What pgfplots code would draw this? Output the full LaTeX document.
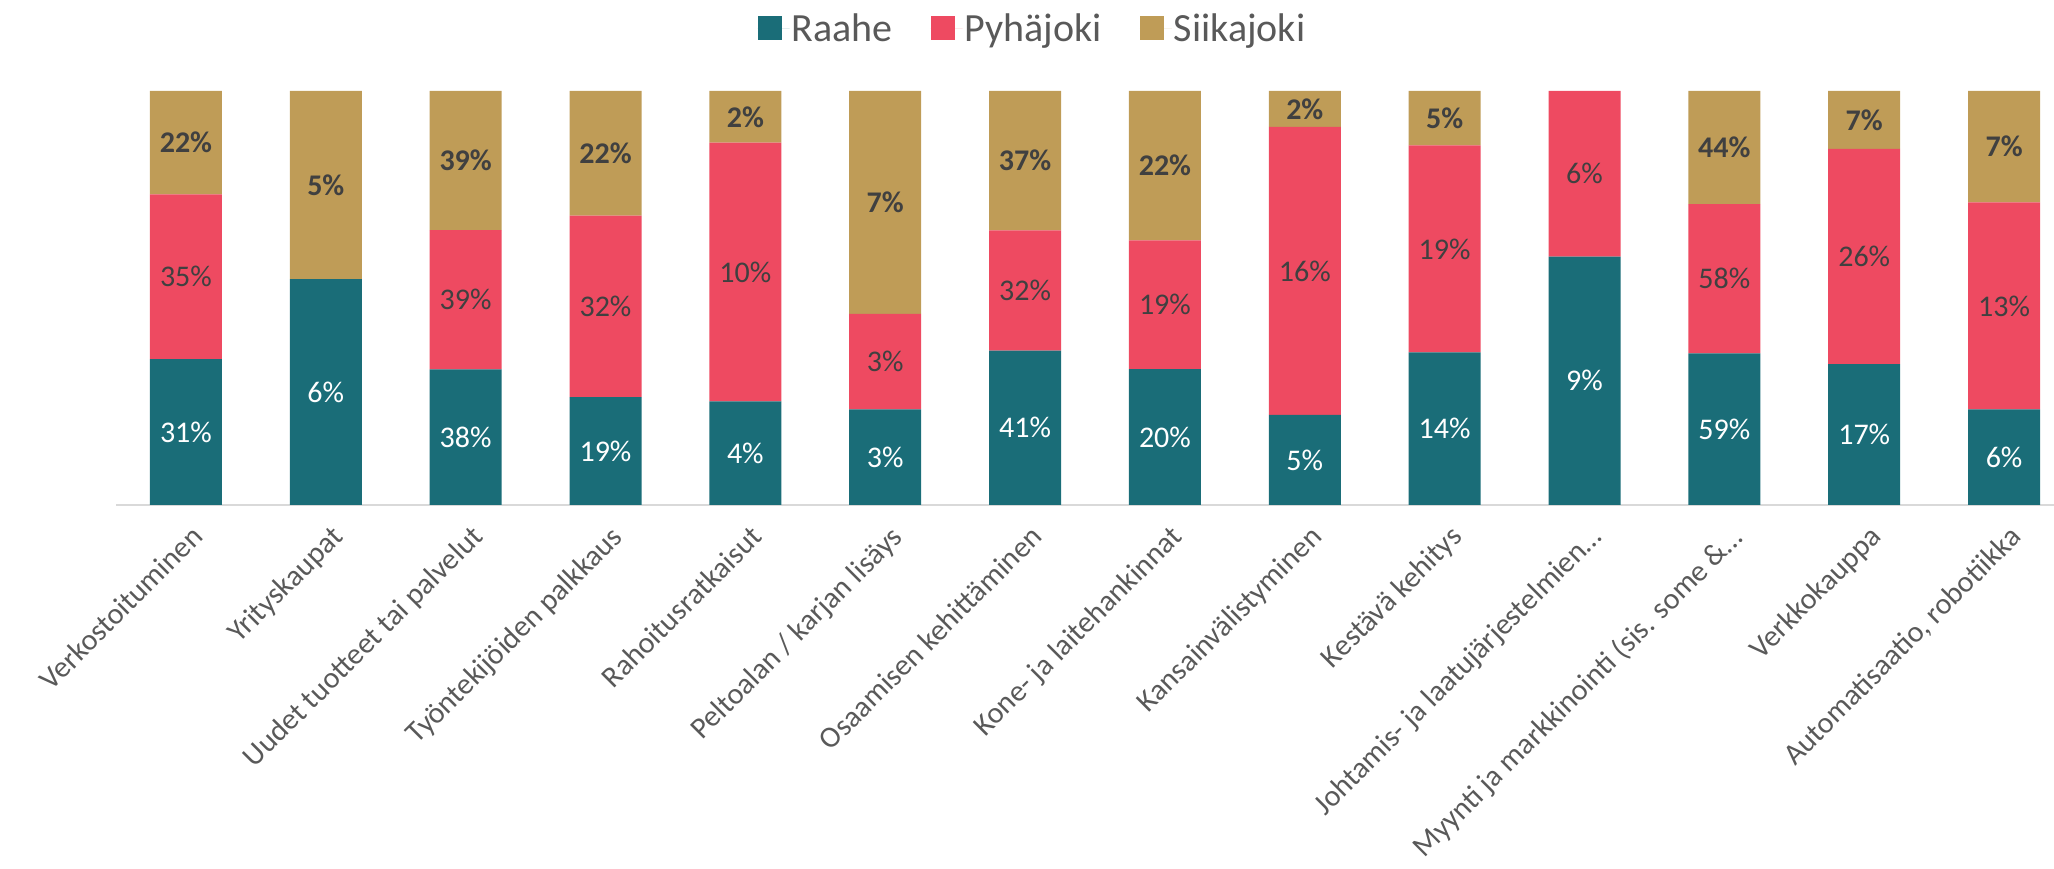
\documentclass[border=0pt]{standalone}
\usepackage{pgfplots}
\pgfplotsset{compat=1.18}
\usepackage{pgfplotstable}
\usepackage{fontspec}
\setmainfont{Carlito}
\definecolor{raahe}{HTML}{1A6D78}
\definecolor{pyha}{HTML}{EE4A61}
\definecolor{siika}{HTML}{BF9C57}
\definecolor{txtgray}{HTML}{595959}
\definecolor{lblgray}{HTML}{404040}
\definecolor{axgray}{HTML}{D9D9D9}

% shares of each bar (normalised from the label values)
\pgfplotstableread{
x raahe pyha siika
0 35.23 39.77 25.00
1 54.55 0.00 45.45
2 32.76 33.62 33.62
3 26.03 43.84 30.14
4 25.00 62.50 12.50
5 23.08 23.08 53.85
6 37.27 29.09 33.64
7 32.79 31.15 36.07
8 21.74 69.57 8.70
9 36.84 50.00 13.16
10 60.00 40.00 0.00
11 36.65 36.02 27.33
12 34.00 52.00 14.00
13 23.08 50.00 26.92
}\shares

% label positions (segment centres) and label values
\pgfplotstableread{
x y lab
0 17.61 31
1 27.27 6
2 16.38 38
3 13.01 19
4 12.50 4
5 11.54 3
6 18.64 41
7 16.39 20
8 10.87 5
9 18.42 14
10 30.00 9
11 18.32 59
12 17.00 17
13 11.54 6
}\labR
\pgfplotstableread{
x y lab
0 55.11 35
2 49.57 39
3 47.95 32
4 56.25 10
5 34.62 3
6 51.82 32
7 48.36 19
8 56.52 16
9 61.84 19
10 80.00 6
11 54.66 58
12 60.00 26
13 48.08 13
}\labP
\pgfplotstableread{
x y lab
0 87.50 22
1 77.27 5
2 83.19 39
3 84.93 22
4 93.75 2
5 73.08 7
6 83.18 37
7 81.97 22
8 95.65 2
9 93.42 5
11 86.34 44
12 93.00 7
13 86.54 7
}\labS

\pgfplotsset{myaxis/.style={
  scale only axis, width=1938bp, height=414bp,
  xmin=-0.5, xmax=13.357, ymin=0, ymax=100,
  anchor=south west, at={(116bp,364bp)},
},
lblplot/.style={draw=none, mark=none,
  point meta=explicit symbolic, nodes near coords={\pgfplotspointmeta\%}},
}
\newcommand\lblfont{\fontsize{30bp}{36bp}\selectfont}

\begin{document}
\begin{tikzpicture}
\begin{axis}[myaxis, ybar stacked, bar width=72bp,
  axis y line=none, axis x line*=bottom,
  x axis line style={axgray, line width=2bp, -},
  xtick={0,...,13}, major tick length=0pt,
  xticklabels={Verkostoituminen, Yrityskaupat, Uudet tuotteet tai palvelut, Työntekijöiden palkkaus, Rahoitusratkaisut, Peltoalan / karjan lisäys, Osaamisen kehittäminen, Kone- ja laitehankinnat, Kansainvälistyminen, Kestävä kehitys, Johtamis- ja laatujärjestelmien…, Myynti ja markkinointi (sis. some \&…, Verkkokauppa, {Automatisaatio, robotiikka}},
  xticklabel style={font=\fontsize{30bp}{36bp}\selectfont, text=txtgray, xshift=4bp, yshift=-14bp, rotate=45, anchor=north east},
  legend columns=-1,
  legend style={at={(0.4729,1.152)}, anchor=center, draw=none, fill=none,
    font=\fontsize{40bp}{48bp}\selectfont, text=txtgray,
    /tikz/every even column/.append style={column sep=36bp}},
]
\addplot[fill=raahe, draw=none, legend image code/.code={\fill[raahe] (0bp,-12bp) rectangle (24bp,12bp); \path (0bp,0bp) -- (32bp,0bp);}] table[x=x, y=raahe] {\shares};
\addlegendentry{Raahe}
\addplot[fill=pyha, draw=none, legend image code/.code={\fill[pyha] (0bp,-12bp) rectangle (24bp,12bp); \path (0bp,0bp) -- (32bp,0bp);}] table[x=x, y=pyha] {\shares};
\addlegendentry{Pyhäjoki}
\addplot[fill=siika, draw=none, legend image code/.code={\fill[siika] (0bp,-12bp) rectangle (24bp,12bp); \path (0bp,0bp) -- (32bp,0bp);}] table[x=x, y=siika] {\shares};
\addlegendentry{Siikajoki}
\end{axis}
\begin{axis}[myaxis, hide axis]
\addplot[lblplot,
  every node near coord/.append style={anchor=center, text=white, font=\lblfont}]
  table[x=x, y=y, meta=lab] {\labR};
\addplot[lblplot,
  every node near coord/.append style={anchor=center, text=lblgray, font=\lblfont}]
  table[x=x, y=y, meta=lab] {\labP};
\addplot[lblplot,
  every node near coord/.append style={anchor=center, text=lblgray, font=\bfseries\lblfont}]
  table[x=x, y=y, meta=lab] {\labS};
\end{axis}
\pgfresetboundingbox
\path (0,0) rectangle (2054bp,869bp);
\end{tikzpicture}
\end{document}
